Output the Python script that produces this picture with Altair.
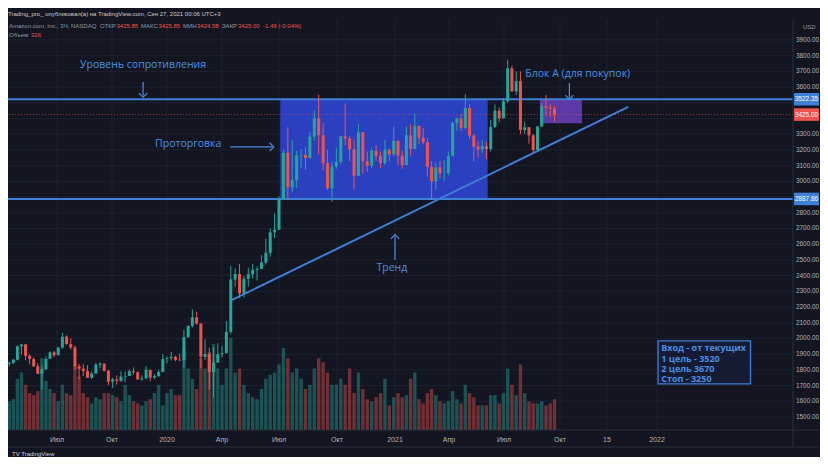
import json
import pandas as pd
import altair as alt

# ---------------- data ----------------
week_start = "2019-04-01"   # weekly candles, Monday of each week
first_open = 1800

closes = [
    # 2019 (Apr - Dec)
    1837, 1843, 1864, 1950, 1962, 1889, 1869, 1823, 1775, 1804, 1870, 1911, 1893,
    1942, 2011, 1964, 1943, 1823, 1807, 1792, 1750, 1776, 1833, 1839, 1794, 1725,
    1739, 1731, 1757, 1761, 1791, 1785, 1739, 1745, 1800, 1751, 1760, 1786, 1869, 1875,
    # 2020
    1883, 1864, 1861, 2008, 2079, 2134, 2095, 1883, 1901, 1785, 1846, 1900, 1906,
    2042, 2375, 2410, 2286, 2380, 2409, 2436, 2442, 2483, 2545, 2675, 2692, 2890,
    3182, 2961, 3008, 3164, 3167, 3148, 3284, 3401, 3294, 3116, 2955, 3095, 3125,
    3286, 3273, 3204, 3036, 3312, 3128, 3099, 3195, 3162, 3116, 3201, 3172, 3257,
    # 2021 (Jan - Sep)
    3163, 3104, 3293, 3206, 3353, 3277, 3249, 3092, 3000, 3089, 3052, 3052, 3161,
    3372, 3400, 3340, 3467, 3291, 3222, 3203, 3223, 3206, 3346, 3450, 3401, 3510,
    3719, 3573, 3638, 3327, 3344, 3293, 3199, 3349, 3478, 3469, 3463, 3425,
]
highs = [
    1850, 1853, 1870, 1956, 1964, 1959, 1900, 1879, 1842, 1830, 1885, 1917, 1920,
    1945, 2035, 2019, 2001, 1955, 1838, 1837, 1830, 1790, 1845, 1850, 1843, 1800,
    1750, 1765, 1791, 1789, 1801, 1815, 1790, 1765, 1824, 1790, 1772, 1800, 1901, 1885,
    1914, 1890, 1903, 2055, 2085, 2185, 2170, 2050, 1995, 1940, 1945, 1970, 1950,
    2110, 2462, 2445, 2475, 2400, 2450, 2475, 2460, 2530, 2635, 2700, 2795, 2905,
    3200, 3344, 3260, 3195, 3205, 3218, 3315, 3453, 3552, 3370, 3200, 3125, 3215,
    3290, 3496, 3290, 3265, 3366, 3262, 3190, 3216, 3228, 3190, 3263, 3210, 3350,
    3260, 3195, 3350, 3363, 3434, 3348, 3338, 3275, 3130, 3120, 3130, 3135, 3190,
    3380, 3405, 3428, 3554, 3490, 3300, 3255, 3260, 3250, 3390, 3490, 3470, 3530,
    3773, 3736, 3700, 3700, 3380, 3340, 3300, 3350, 3500, 3549, 3490, 3480,
]
lows = [
    1798, 1823, 1837, 1860, 1898, 1862, 1835, 1818, 1773, 1673, 1801, 1875, 1880,
    1910, 1935, 1960, 1930, 1800, 1739, 1760, 1748, 1742, 1777, 1810, 1790, 1703,
    1685, 1707, 1722, 1719, 1760, 1770, 1735, 1731, 1743, 1730, 1740, 1755, 1790, 1843,
    1860, 1855, 1855, 1815, 2005, 2070, 2085, 1811, 1862, 1675, 1626, 1850, 1880,
    1960, 2030, 2330, 2256, 2260, 2330, 2380, 2368, 2441, 2470, 2520, 2640, 2690,
    2880, 2885, 2930, 2960, 3085, 3075, 3150, 3260, 3170, 3070, 2945, 2871, 3080,
    3110, 3230, 3130, 2950, 3050, 3050, 3060, 3085, 3130, 3085, 3105, 3130, 3160,
    3100, 3080, 3110, 3165, 3205, 3237, 3236, 3030, 2881, 2945, 3020, 3000, 3040,
    3160, 3320, 3320, 3330, 3270, 3127, 3150, 3180, 3140, 3190, 3340, 3377, 3400,
    3500, 3570, 3550, 3300, 3300, 3240, 3176, 3200, 3345, 3420, 3410, 3380,
]
volumes = [
    16, 14, 15, 25, 28, 22, 18, 17, 19, 35, 24, 20, 18,
    14, 22, 18, 17, 32, 26, 18, 16, 13, 16, 15, 18, 18,
    17, 16, 14, 22, 17, 14, 13, 12, 14, 15, 18, 22, 12, 18,
    20, 17, 17, 40, 30, 25, 20, 35, 30, 38, 42, 30, 22,
    30, 45, 28, 30, 22, 18, 16, 15, 20, 25, 27, 28, 32,
    40, 35, 28, 30, 25, 20, 22, 30, 35, 33, 28, 22, 22,
    25, 22, 30, 18, 28, 20, 15, 14, 16, 18, 25, 12, 16,
    18, 16, 17, 25, 28, 15, 13, 18, 20, 17, 14, 13, 14,
    19, 15, 13, 22, 18, 16, 12, 12, 12, 17, 17, 13, 18,
    30, 22, 17, 32, 18, 14, 13, 13, 14, 12, 13, 15,
]
assert len(closes) == len(highs) == len(lows) == len(volumes)

resistance = 3522.35
support = 2887.86
last_price = 3425.00

range_box_dates = ["2020-07-03", "2021-06-04"]
block_dates = ["2021-08-29", "2021-10-22"]
block_prices = [3370, 3522.35]
trend_dates = ["2020-04-17", "2021-12-05"]
trend_prices = [2245, 3474]

tick_dates = ["2019-07-01", "2019-10-01", "2020-01-01", "2020-04-01", "2020-07-01",
              "2020-10-01", "2021-01-01", "2021-04-01", "2021-07-01", "2021-10-01",
              "2021-11-15", "2022-01-01"]
tick_labels = ["Июл", "Окт", "2020", "Апр", "Июл", "Окт", "2021", "Апр", "Июл", "Окт",
               "15", "2022"]
price_ticks = list(range(1500, 4000, 100))
hidden_price_labels = [3500, 3400, 2900]   # covered by the price tags

ann_texts = ["Уровень сопротивления", "Проторговка", "Тренд", "Блок А (для покупок)"]
ann_dates = ["2019-11-22", "2020-02-05", "2020-12-27", "2021-10-18"]
ann_prices = [3741, 3238, 2449, 3684]

arrow_from_dates = ["2019-11-22", "2020-04-14", "2021-01-01", "2021-10-10"]
arrow_to_dates = ["2019-11-22", "2020-06-20", "2021-01-01", "2021-10-10"]
arrow_from_prices = [3633, 3219, 2500, 3626]
arrow_to_prices = [3546, 3219, 2650, 3533]
arrow_dirs = ["down", "right", "up", "down"]

info_lines = ["Вход - от текущих", "1 цель - 3520", "2 цель 3670", "Стоп - 3250"]
info_line_prices = [1939, 1871, 1806, 1742]
info_text_date = "2022-01-05"
info_box_dates = ["2022-01-02", "2022-03-30"]
info_box_prices = [1710, 1984]

tag_prices = [resistance, last_price, support]
tag_texts = ["3522.35", "3425.00", "2887.86"]
tag_colors = ["#3f7fd6", "#ef5350", "#3f7fd6"]

# ---------------- helpers / styling ----------------
def ms(d):
    return int(pd.Timestamp(d, tz="UTC").value // 1_000_000)

BG = "#131620"
GRID = "#1d2130"
SEP = "#2a2e39"
BLUE_LINE = "#3f7fd6"
BLUE_TEXT = "#4b8fe2"
AXIS_TXT = "#b2b5be"
UP, DOWN = "#26a69a", "#ef5350"
FONT = "Open Sans"
AXFONT = "Liberation Sans"

W, H = 785, 410

# piecewise time scale (TradingView-like bar spacing, anchored at the axis labels)
anchor_dates = ["2019-04-01"] + tick_dates + ["2022-05-09"]
anchor_px = [-4, 49, 104, 159, 214, 271, 329, 387, 441, 496, 552, 599, 649, 785]
XS = alt.Scale(type="linear", domain=[ms(d) for d in anchor_dates], range=anchor_px,
               nice=False, zero=False)
YS = alt.Scale(domain=[1417, 4027], nice=False, zero=False)
NOAX = None


def X(field):
    return alt.X(field, scale=XS, axis=NOAX)


def Y(field):
    return alt.Y(field, scale=YS, axis=NOAX)


dates = pd.date_range(week_start, periods=len(closes), freq="7D") + pd.Timedelta(days=2)
opens = [first_open] + closes[:-1]
candles = pd.DataFrame({
    "t": [ms(d) for d in dates],
    "open": opens,
    "close": closes,
    "high": [max(h, o, c) for h, o, c in zip(highs, opens, closes)],
    "low": [min(l, o, c) for l, o, c in zip(lows, opens, closes)],
    "volume": volumes,
    "dir": ["up" if c >= o else "down" for o, c in zip(opens, closes)],
})

COLOR = alt.Color("dir:N", scale=alt.Scale(domain=["up", "down"], range=[UP, DOWN]), legend=None)

# ---------------- axes drawn through the scales ----------------
xt_df = pd.DataFrame({"t": [ms(d) for d in tick_dates], "lab": tick_labels})
yt_df = pd.DataFrame({"p": price_ticks})
yl_df = pd.DataFrame({"p": [p for p in price_ticks if p not in hidden_price_labels]})
yl_df["lab"] = [f"{p:.2f}" for p in yl_df["p"]]

x_grid = alt.Chart(xt_df).mark_rule(color=GRID, strokeWidth=1).encode(x=X("t:Q"))
y_grid = alt.Chart(yt_df).mark_rule(color=GRID, strokeWidth=1).encode(y=Y("p:Q"))
x_labels = alt.Chart(xt_df).mark_text(font=AXFONT, fontSize=7, color=AXIS_TXT,
                                      align="center", baseline="middle").encode(
    x=X("t:Q"), y=alt.value(H + 10), text="lab:N")
y_labels = alt.Chart(yl_df).mark_text(font=AXFONT, fontSize=6.4, color=AXIS_TXT,
                                      align="left", baseline="middle").encode(
    x=alt.value(W + 3), y=Y("p:Q"), text="lab:N")
sep_df = pd.DataFrame({"k": [0]})
sep_v = alt.Chart(sep_df).mark_rule(color=SEP, strokeWidth=1).encode(
    x=alt.value(W), y=alt.value(0), y2=alt.value(H + 17))
sep_h1 = alt.Chart(sep_df).mark_rule(color=SEP, strokeWidth=1).encode(
    x=alt.value(0), x2=alt.value(W + 27), y=alt.value(H))
sep_h2 = alt.Chart(sep_df).mark_rule(color=SEP, strokeWidth=1).encode(
    x=alt.value(0), x2=alt.value(W + 27), y=alt.value(H + 17))

base = alt.Chart(candles)

# volume (independent scale, bottom of pane)
volume = base.mark_rule(strokeWidth=3.4, opacity=0.42).encode(
    x=X("t:Q"),
    y=alt.Y("volume:Q", scale=alt.Scale(domain=[0, 200], nice=False), axis=None),
    y2=alt.datum(0),
    color=COLOR,
)

# consolidation box
box_df = pd.DataFrame({"t0": [ms(range_box_dates[0])], "t1": [ms(range_box_dates[1])],
                       "p0": [support], "p1": [resistance]})
box = alt.Chart(box_df).mark_rect(color="#2e47d6", opacity=0.88).encode(
    x=X("t0:Q"), x2="t1:Q", y=Y("p0:Q"), y2="p1:Q")

block_df = pd.DataFrame({"t0": [ms(block_dates[0])], "t1": [ms(block_dates[1])],
                         "p0": [block_prices[0]], "p1": [block_prices[1]]})
block = alt.Chart(block_df).mark_rect(color="#6b3fbd", opacity=0.85).encode(
    x=X("t0:Q"), x2="t1:Q", y=Y("p0:Q"), y2="p1:Q")

wicks = base.mark_rule(strokeWidth=1).encode(
    x=X("t:Q"), y=Y("low:Q"), y2="high:Q", color=COLOR)
bodies = base.mark_rule(strokeWidth=3).encode(
    x=X("t:Q"), y=Y("open:Q"), y2="close:Q", color=COLOR)

levels = alt.Chart(pd.DataFrame({"p": [resistance, support]})).mark_rule(
    color=BLUE_LINE, strokeWidth=2).encode(y=Y("p:Q"))

last_line = alt.Chart(pd.DataFrame({"p": [last_price]})).mark_rule(
    color="#ef5350", strokeWidth=1, strokeDash=[1, 2], opacity=0.6).encode(y=Y("p:Q"))

trend_df = pd.DataFrame({"t0": [ms(trend_dates[0])], "t1": [ms(trend_dates[1])],
                         "p0": [trend_prices[0]], "p1": [trend_prices[1]]})
trend = alt.Chart(trend_df).mark_rule(color=BLUE_LINE, strokeWidth=2).encode(
    x=X("t0:Q"), x2="t1:Q", y=Y("p0:Q"), y2="p1:Q")

ann_df = pd.DataFrame({"t": [ms(d) for d in ann_dates], "p": ann_prices, "txt": ann_texts})
ann = alt.Chart(ann_df).mark_text(font=FONT, fontSize=10.5, color=BLUE_TEXT,
                                  align="center", baseline="middle").encode(
    x=X("t:Q"), y=Y("p:Q"), text="txt:N")

shaft_df = pd.DataFrame({"t0": [ms(d) for d in arrow_from_dates],
                         "t1": [ms(d) for d in arrow_to_dates],
                         "p0": arrow_from_prices, "p1": arrow_to_prices})
shafts = alt.Chart(shaft_df).mark_rule(color=BLUE_TEXT, strokeWidth=1.2).encode(
    x=X("t0:Q"), x2="t1:Q", y=Y("p0:Q"), y2="p1:Q")
chevrons = {"down": "M-1,-0.6L0,0.4L1,-0.6", "up": "M-1,0.6L0,-0.4L1,0.6",
            "right": "M-0.6,-1L0.4,0L-0.6,1"}
head_df = pd.DataFrame({"t": [ms(d) for d in arrow_to_dates], "p": arrow_to_prices,
                        "shape": [chevrons[d] for d in arrow_dirs]})
heads = alt.Chart(head_df).mark_point(filled=False, color=BLUE_TEXT, strokeWidth=1.2,
                                      size=70, opacity=1).encode(
    x=X("t:Q"), y=Y("p:Q"), shape=alt.Shape("shape:N", scale=None))

info_box_df = pd.DataFrame({"t0": [ms(info_box_dates[0])], "t1": [ms(info_box_dates[1])],
                            "p0": [info_box_prices[0]], "p1": [info_box_prices[1]]})
info_box = alt.Chart(info_box_df).mark_rect(fill="#151b33", stroke=BLUE_LINE,
                                            strokeWidth=1.3).encode(
    x=X("t0:Q"), x2="t1:Q", y=Y("p0:Q"), y2="p1:Q")
info_df = pd.DataFrame({"t": [ms(info_text_date)] * len(info_lines),
                        "p": info_line_prices, "txt": info_lines})
info_text = alt.Chart(info_df).mark_text(font=FONT, fontSize=9, fontWeight="bold",
                                         color=BLUE_TEXT, align="left",
                                         baseline="middle").encode(
    x=X("t:Q"), y=Y("p:Q"), text="txt:N")

tag_df = pd.DataFrame({"p": tag_prices, "lo": [p - 40 for p in tag_prices],
                       "hi": [p + 40 for p in tag_prices], "txt": tag_texts,
                       "col": tag_colors})
tag_rect = alt.Chart(tag_df).mark_rect().encode(
    x=alt.value(W + 1), x2=alt.value(W + 26), y=Y("lo:Q"), y2="hi:Q",
    color=alt.Color("col:N", scale=None))
tag_text = alt.Chart(tag_df).mark_text(font=AXFONT, fontSize=6.4, color="white",
                                       align="center", baseline="middle").encode(
    x=alt.value(W + 13.5), y=Y("p:Q"), text="txt:N")

# header / chrome texts (layout positions, not data)
hdr_txt = ["Trading_pro_ опубликовал(а) на TradingView.com, Сен 27, 2021 00:06 UTC+3",
           "Amazon.com, Inc., 3Ч, NASDAQ", "ОТКР", "3425.85", "МАКС", "3425.85",
           "МИН", "3424.58", "ЗАКР", "3425.00", "-1.49 (-0.04%)", "Объем", "326",
           "USD", "TV TradingView"]
hdr_x = [0, 1, 92, 108.5, 133, 150.5, 175, 189, 214, 230, 255, 1, 23, W + 10, 4]
hdr_y = [-6, 6, 6, 6, 6, 6, 6, 6, 6, 6, 6, 15, 15, 7, 434]
hdr_col = ["#c9ccd4", "#9598a1", "#9598a1", "#ef5350", "#9598a1", "#ef5350", "#9598a1",
           "#ef5350", "#9598a1", "#ef5350", "#ef5350", "#9598a1", "#ef5350", "#9598a1",
           "#d1d4dc"]
hdr_layers = [
    alt.Chart(pd.DataFrame({"txt": [s]})).mark_text(
        font=AXFONT, fontSize=6, color=c, align="left", baseline="middle"
    ).encode(x=alt.value(x), y=alt.value(y), text="txt:N")
    for s, x, y, c in zip(hdr_txt, hdr_x, hdr_y, hdr_col)
]

grid_group = alt.layer(x_grid, y_grid)
price_group = alt.layer(box, block, levels, last_line, trend, wicks, bodies, shafts, heads,
                        ann, info_box, info_text, sep_v, sep_h1, sep_h2, x_labels,
                        y_labels, tag_rect, tag_text, *hdr_layers)

chart = alt.layer(grid_group, volume, price_group).resolve_scale(y="independent").properties(
    width=W, height=H, background=BG,
    padding={"left": 0, "top": 12, "right": 27, "bottom": 27},
    autosize=alt.AutoSizeParams(type="none"),
).configure_view(fill=BG, stroke=None)

chart.save("out.html", embed_options={"renderer": "svg", "actions": False})
